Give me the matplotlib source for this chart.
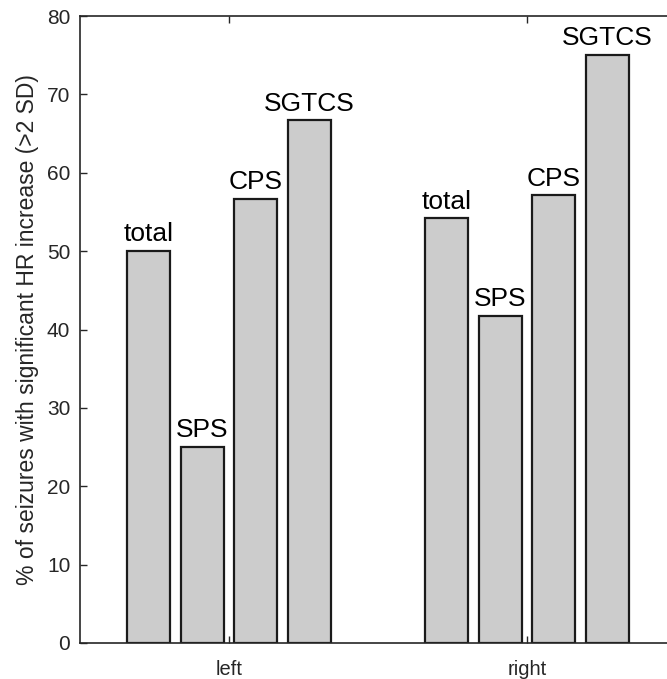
import numpy as np
import matplotlib
matplotlib.use("Agg")
import matplotlib.pyplot as plt

# --- Data -------------------------------------------------------------------
groups = ["left", "right"]
seizure_types = ["total", "SPS", "CPS", "SGTCS"]
left_vals = [50.0, 25.0, 56.7, 66.7]
right_vals = [54.2, 41.7, 57.1, 75.0]

plt.rcParams["font.family"] = ["Liberation Sans", "DejaVu Sans"]

fig = plt.figure(figsize=(6.67, 6.79), dpi=100)
# axes runs a little past the right edge of the figure, as in the reference
ax = fig.add_axes([80 / 667, 36 / 679, 596 / 667, 627 / 679])

offsets = [-0.27, -0.09, 0.09, 0.27]
width = 0.145
x = np.arange(1, len(groups) + 1)
for gi, vals in enumerate([left_vals, right_vals]):
    for k, (lab, v) in enumerate(zip(seizure_types, vals)):
        xc = x[gi] + offsets[k]
        ax.bar(xc, v, width=width, color="#cccccc", edgecolor="#1a1a1a",
               linewidth=1.6, zorder=2)
        ax.text(xc, v + 0.6, lab, ha="center", va="bottom", fontsize=19,
                color="black")

ax.set_xlim(0.5, 2.5)
ax.set_ylim(0, 80)
ax.set_xticks(x)
ax.set_xticklabels(groups)
ax.set_yticks(np.arange(0, 81, 10))
ax.tick_params(direction="in", length=5, width=1, colors="#262626",
               labelsize=15, top=True, right=True, pad=7)
ax.tick_params(axis="x", labelsize=14.5, pad=12)
for sp in ax.spines.values():
    sp.set_linewidth(1.2)
    sp.set_color("#262626")
ax.set_ylabel("% of seizures with significant HR increase (>2 SD)",
              fontsize=16.5, color="#262626", labelpad=6)

fig.savefig("out.png", dpi=100)
